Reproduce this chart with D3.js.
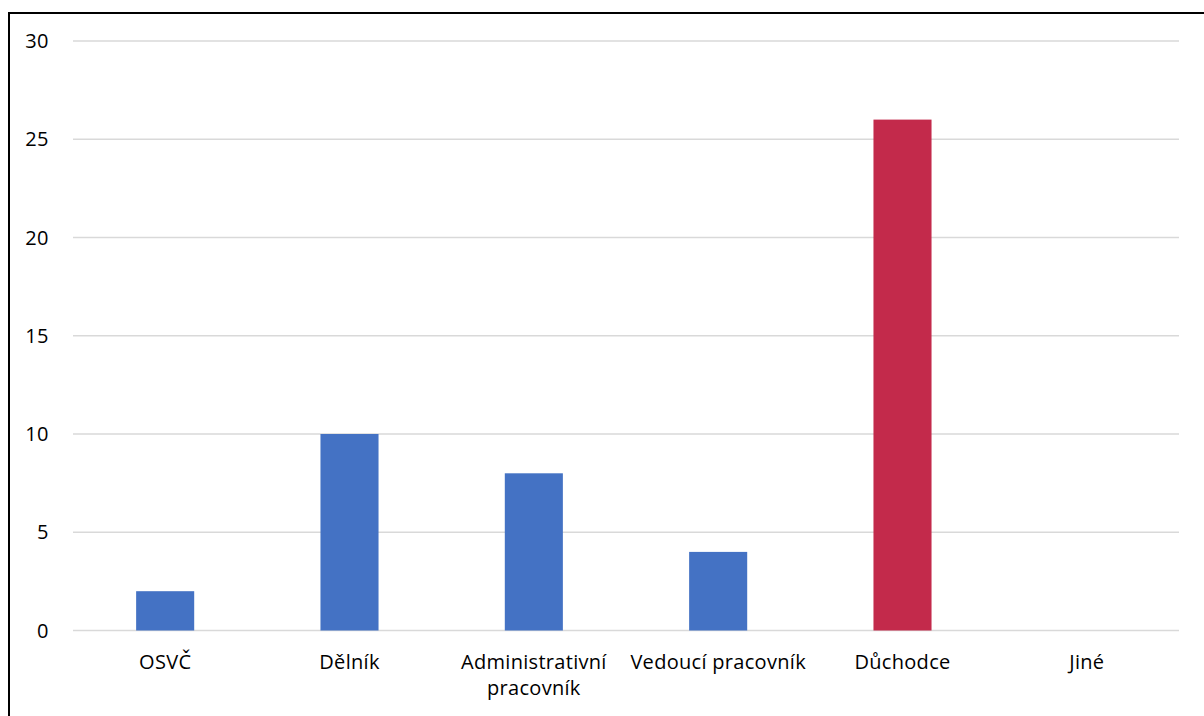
<!DOCTYPE html>
<html>
<head>
<meta charset="utf-8">
<script src="https://cdn.jsdelivr.net/npm/d3@7"></script>
<style>
  body { margin: 0; background: #fff; }
  svg text { font-family: "Open Sans", sans-serif; fill: #000; }
</style>
</head>
<body>
<div id="chart"></div>
<script>
// data
const categories = ["OSVČ", "Dělník", "Administrativní pracovník", "Vedoucí pracovník", "Důchodce", "Jiné"];
const values = [2, 10, 8, 4, 26, 0];
const barColors = ["#4472C4", "#4472C4", "#4472C4", "#4472C4", "#C32A4B", "#4472C4"];
const yTicks = [0, 5, 10, 15, 20, 25, 30];

const width = 1204, height = 716;
const svg = d3.select("#chart").append("svg")
  .attr("width", width)
  .attr("height", height);

// outer frame (left and top edges visible)
svg.append("rect")
  .attr("x", 9).attr("y", 13)
  .attr("width", 1300).attr("height", 800)
  .attr("fill", "none")
  .attr("stroke", "#000")
  .attr("stroke-width", 2);

const x = d3.scaleBand()
  .domain(categories)
  .range([73, 1179])
  .paddingInner(0.685)
  .paddingOuter(0.3425);

const y = d3.scaleLinear()
  .domain([0, 30])
  .range([630.5, 41]);

// gridlines
svg.selectAll(".grid")
  .data(yTicks)
  .enter()
  .append("line")
  .attr("x1", 73).attr("x2", 1179)
  .attr("y1", d => y(d)).attr("y2", d => y(d))
  .attr("stroke", "#d9d9d9")
  .attr("stroke-width", 1.5);

// y labels
svg.selectAll(".ylab")
  .data(yTicks)
  .enter()
  .append("text")
  .attr("x", 49)
  .attr("y", d => y(d))
  .attr("dy", "0.36em")
  .attr("text-anchor", "end")
  .style("font-size", "20px")
  .style("letter-spacing", "0.5px")
  .text(d => d);

// bars
svg.selectAll(".bar")
  .data(categories)
  .enter()
  .append("rect")
  .attr("x", d => x(d))
  .attr("y", (d, i) => y(values[i]))
  .attr("width", x.bandwidth())
  .attr("height", (d, i) => y(0) - y(values[i]))
  .attr("fill", (d, i) => barColors[i]);

// x labels, wrapping the long one onto two lines
const labels = svg.selectAll(".xlab")
  .data(categories)
  .enter()
  .append("text")
  .attr("text-anchor", "middle")
  .attr("transform", d => `translate(${x(d) + x.bandwidth() / 2},669)`)
  .style("font-size", "20px")
  .style("letter-spacing", "0.3px");

labels.each(function (d) {
  const lines = d === "Administrativní pracovník" ? ["Administrativní", "pracovník"] : [d];
  d3.select(this).selectAll("tspan")
    .data(lines)
    .enter()
    .append("tspan")
    .attr("x", 0)
    .attr("dy", (l, i) => (i === 0 ? 0 : 26))
    .text(l => l);
});
</script>
</body>
</html>
